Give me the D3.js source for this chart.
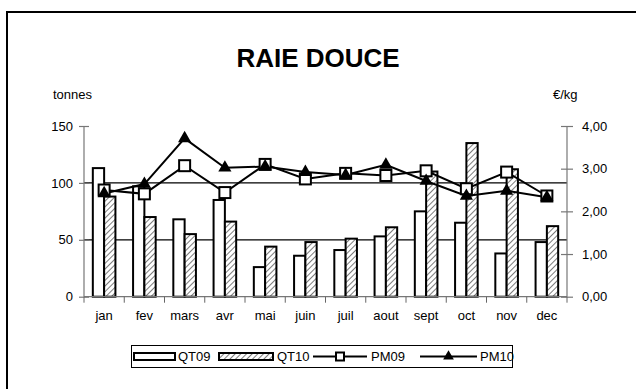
<!DOCTYPE html>
<html><head><meta charset="utf-8">
<script src="https://cdn.jsdelivr.net/npm/d3@7"></script>
<style>
body{margin:0;background:#fff;}
svg{display:block;font-family:"Liberation Sans",Arial,sans-serif;}
</style></head>
<body><svg id="c" width="636" height="389"></svg>
<script>
const months = ["jan","fev","mars","avr","mai","juin","juil","aout","sept","oct","nov","dec"];
const qt09 = [113, 97, 68, 85, 26, 36, 41, 53, 75, 65, 38, 48];
const qt10 = [88, 70, 55, 66, 44, 48, 51, 61, 110, 135, 112, 62];
const pm09 = [2.50, 2.41, 3.07, 2.44, 3.10, 2.76, 2.89, 2.84, 2.95, 2.53, 2.92, 2.36];
const pm10 = [2.42, 2.64, 3.71, 3.02, 3.05, 2.92, 2.85, 3.09, 2.71, 2.36, 2.48, 2.33];
const leftTicks = [0, 50, 100, 150];
const rightTicks = [0, 1, 2, 3, 4];
const gridValues = [50, 100];

const svg = d3.select("#c");
const defs = svg.append("defs");
const pat = defs.append("pattern").attr("id","hatch").attr("patternUnits","userSpaceOnUse")
  .attr("width",4).attr("height",4).attr("patternTransform","rotate(45)");
pat.append("rect").attr("width",4).attr("height",4).attr("fill","#fff");
pat.append("line").attr("x1",0).attr("y1",0).attr("x2",0).attr("y2",4).attr("stroke","#444").attr("stroke-width",1.4);

// outer frame
svg.append("rect").attr("x",7).attr("y",12).attr("width",640).attr("height",400)
  .attr("fill","none").attr("stroke","#000").attr("stroke-width",2);

const x = d3.scaleBand().domain(months).range([84, 567]).paddingInner(0).paddingOuter(0);
const bw = x.bandwidth();
const groupW = 22.6;
const x1 = d3.scaleBand().domain(["QT09","QT10"]).range([(bw-groupW)/2, (bw+groupW)/2]);
const yL = d3.scaleLinear().domain([0,150]).range([296.7,126]);
const yR = d3.scaleLinear().domain([0,4]).range([296.7,126]);

// gridlines
svg.append("g").selectAll("line").data(gridValues).join("line")
  .attr("x1",84).attr("x2",567).attr("y1",d=>yL(d)).attr("y2",d=>yL(d))
  .attr("stroke","#000").attr("stroke-width",1.3);

// bars
const bars = svg.append("g");
months.forEach((m,i)=>{
  [["QT09",qt09[i],"#fff"],["QT10",qt10[i],"url(#hatch)"]].forEach(([k,v,f])=>{
    bars.append("rect").attr("x",x(m)+x1(k)).attr("y",yL(v))
      .attr("width",x1.bandwidth()).attr("height",yL(0)-yL(v))
      .attr("fill",f).attr("stroke","#000").attr("stroke-width",2);
  });
});

// axes
const axL = svg.append("g").attr("transform","translate(84,0)")
  .call(d3.axisLeft(yL).tickValues(leftTicks).tickSize(6).tickPadding(5));
axL.selectAll(".tick line").attr("x2",-5).attr("x1",5);
const axR = svg.append("g").attr("transform","translate(567,0)")
  .call(d3.axisRight(yR).tickValues(rightTicks).tickSize(6).tickPadding(9)
    .tickFormat(d=>d3.format(".2f")(d).replace(".",",")));
axR.selectAll(".tick line").attr("x1",-6).attr("x2",6);
const axB = svg.append("g").attr("transform","translate(0,296.7)")
  .call(d3.axisBottom(x).tickSize(0).tickPadding(14));
// category separators ticks
svg.append("g").selectAll("line").data(months.concat(["_end"])).join("line")
  .attr("x1",(d,i)=>84+i*bw).attr("x2",(d,i)=>84+i*bw)
  .attr("y1",296.7).attr("y2",302.7).attr("stroke","#666").attr("stroke-width",1);
[axL,axR,axB].forEach(a=>{
  a.select(".domain").attr("stroke","#777").attr("stroke-width",1.2);
  a.selectAll(".tick line").attr("stroke","#777").attr("stroke-width",1.2);
  a.selectAll("text").attr("font-size",13).attr("fill","#000").attr("font-family","Liberation Sans, Arial, sans-serif");
});
axL.select(".domain").attr("d","M0,126V296.7");
axR.select(".domain").attr("d","M0,126V296.7");
axB.select(".domain").attr("d","M84,0H567");

// lines
const cx = m => x(m)+bw/2;
const line = d3.line();
const p9 = months.map((m,i)=>[cx(m), yR(pm09[i])]);
const p10 = months.map((m,i)=>[cx(m), yR(pm10[i])]);
svg.append("path").attr("d",line(p9)).attr("fill","none").attr("stroke","#000").attr("stroke-width",2);
svg.append("path").attr("d",line(p10)).attr("fill","none").attr("stroke","#000").attr("stroke-width",2);
svg.append("g").selectAll("rect").data(p9).join("rect")
  .attr("x",d=>d[0]-5.5).attr("y",d=>d[1]-5.5).attr("width",11).attr("height",11)
  .attr("fill","#fff").attr("stroke","#000").attr("stroke-width",2);
const tri = d3.symbol().type(d3.symbolTriangle).size(75);
svg.append("g").selectAll("path").data(p10).join("path")
  .attr("d",tri).attr("transform",d=>`translate(${d[0]},${d[1]})`).attr("fill","#000");

// texts
svg.append("text").attr("x",318).attr("y",67).attr("text-anchor","middle")
  .attr("font-size",26).attr("font-weight","bold").text("RAIE DOUCE");
svg.append("text").attr("x",53).attr("y",99).attr("font-size",13).text("tonnes");
svg.append("text").attr("x",553).attr("y",99).attr("font-size",13).text("€/kg");

// legend
const lg = svg.append("g");
lg.append("rect").attr("x",131.5).attr("y",345.5).attr("width",381).attr("height",22)
  .attr("fill","#fff").attr("stroke","#000").attr("stroke-width",1);
const ly = 356.5;
const legendItems = [
  {k:"QT09", type:"bar", fill:"#fff", x0:134, x1:175, tx:178},
  {k:"QT10", type:"bar", fill:"url(#hatch)", x0:219, x1:273, tx:277},
  {k:"PM09", type:"sq", x0:313, x1:367, tx:371},
  {k:"PM10", type:"tri", x0:420, x1:477, tx:480}
];
legendItems.forEach(it=>{
  if(it.type==="bar"){
    lg.append("rect").attr("x",it.x0).attr("y",ly-3.5).attr("width",it.x1-it.x0).attr("height",7)
      .attr("fill",it.fill).attr("stroke","#000").attr("stroke-width",2);
  } else {
    lg.append("line").attr("x1",it.x0).attr("x2",it.x1).attr("y1",ly).attr("y2",ly).attr("stroke","#000").attr("stroke-width",2);
    const c=(it.x0+it.x1)/2;
    if(it.type==="sq") lg.append("rect").attr("x",c-4).attr("y",ly-4).attr("width",8).attr("height",8).attr("fill","#fff").attr("stroke","#000").attr("stroke-width",2);
    else lg.append("path").attr("d",d3.symbol().type(d3.symbolTriangle).size(50)).attr("transform",`translate(${c},${ly})`).attr("fill","#000");
  }
  lg.append("text").attr("x",it.tx).attr("y",ly+4.5).attr("font-size",13).text(it.k);
});
</script></body></html>
